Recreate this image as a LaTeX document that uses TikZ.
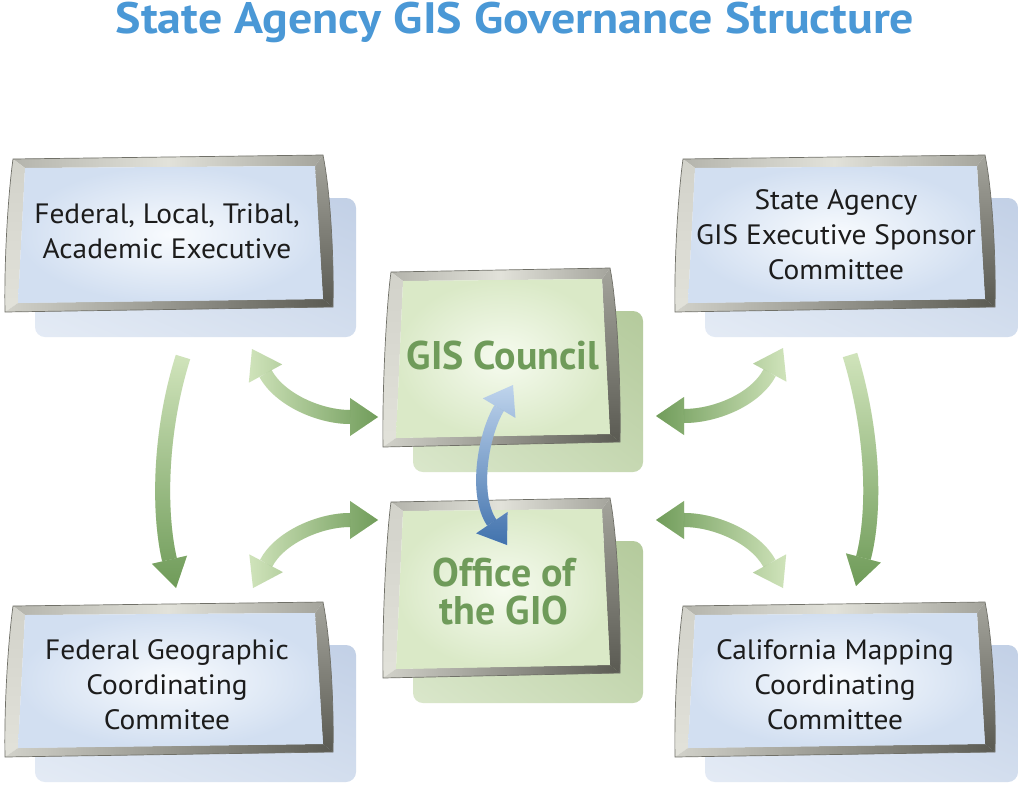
\documentclass[tikz,border=0pt]{standalone}
\usepackage{fontspec}
\setmainfont{PT Sans}
\newfontfamily\boxfont{PT Sans}[FakeStretch=1.05]
\newfontfamily\ttlfont{PT Sans}[FakeStretch=1.09]
\usetikzlibrary{arrows.meta,fadings,shadings,calc}

\definecolor{titleblue}{HTML}{4A98D6}
\definecolor{gtext}{HTML}{6F9B5A}
\definecolor{btext}{HTML}{1C1C1C}
\definecolor{shB1}{HTML}{E4EBF5}
\definecolor{shB2}{HTML}{C2D0E6}
\definecolor{shB3}{HTML}{D3DEEE}
\definecolor{shG1}{HTML}{DAE7CB}
\definecolor{shG2}{HTML}{B4CA9C}
\definecolor{shG3}{HTML}{C6D8B2}
\definecolor{pnB1}{HTML}{F8FBFE}
\definecolor{pnB2}{HTML}{D2DFF1}
\definecolor{pnG1}{HTML}{F6FBEF}
\definecolor{pnG2}{HTML}{DAE9C7}
\definecolor{frA}{HTML}{B4B4AC}
\definecolor{frB}{HTML}{E2E2DA}
\definecolor{frC}{HTML}{A4A49C}
\definecolor{frD}{HTML}{5A5A52}
\definecolor{frE}{HTML}{D2D2CA}
\definecolor{frLine}{HTML}{707068}
\definecolor{gl}{HTML}{D3E6BE}
\definecolor{gd}{HTML}{6C9956}
\definecolor{bl}{HTML}{C4D8EF}
\definecolor{bd}{HTML}{3D6FAB}

\tikzfading[name=toR, left color=transparent!100, right color=transparent!0]
\tikzfading[name=toL, left color=transparent!0, right color=transparent!100]
\tikzfading[name=toB, top color=transparent!100, bottom color=transparent!0]

\tikzset{
  bluesh/.style={lower left=shB1, upper right=shB2, upper left=shB3, lower right=shB3},
  greensh/.style={lower left=shG1, upper right=shG2, upper left=shG3, lower right=shG3},
  bluepn/.style={inner color=pnB1, outer color=pnB2},
  greenpn/.style={inner color=pnG1, outer color=pnG2},
  boxtext/.style={align=center, text=btext, font=\boxfont\fontsize{28}{35}\selectfont, inner sep=0pt},
  gistext/.style={align=center, text=gtext, font=\fontsize{40}{38}\selectfont\bfseries, inner sep=0pt},
  titletext/.style={text=titleblue, font=\ttlfont\fontsize{44}{44}\selectfont\bfseries, inner sep=0pt, anchor=base},
  garr/.style={line width=14, {Triangle[width=38,length=28,line width=0pt]}-{Triangle[width=38,length=28,line width=0pt]}},
  garrone/.style={line width=15, -{Triangle[width=36,length=29,line width=0pt]}},
  barr/.style={line width=11, {Triangle[width=38,length=27,line width=0pt]}-{Triangle[width=38,length=27,line width=0pt]}},
}

% #1 x1, #2 y1, #3 x2, #4 y2, #5 kind (blue / green)
\newcommand\bevbox[5]{%
  \shade[#5sh, rounded corners=10] (#1+30,#2+43) rectangle (#3+23,#4+25);
  % top band
  \shade[left color=frA, right color=frC, middle color=frB]
    (#1+8,#2+4) -- (#3-10,#2) -- (#3-18,#2+11) -- (#1+20,#2+13) -- cycle;
  % left band
  \shade[top color=frE, bottom color=frB]
    (#1+8,#2+4) -- (#1+20,#2+13) -- (#1+13,#4-9) -- (#1,#4)
    .. controls (#1-1,#4-50) and (#1+3,#2+40) .. cycle;
  % right band
  \shade[top color=frC, bottom color=frD]
    (#3-10,#2) .. controls (#3-2,#2+40) and (#3+1,#4-50) .. (#3,#4-5)
    -- (#3-10,#4-13) -- (#3-18,#2+11) -- cycle;
  % bottom band
  \shade[left color=frE, right color=frD]
    (#1,#4) -- (#1+13,#4-9) -- (#3-10,#4-13) -- (#3,#4-5) -- cycle;
  % panel
  \shade[#5pn] (#1+20,#2+13) -- (#3-18,#2+11) -- (#3-10,#4-13) -- (#1+13,#4-9) -- cycle;
  % outline
  \draw[frLine, line width=0.7] (#1+8,#2+4) -- (#3-10,#2)
    .. controls (#3-2,#2+40) and (#3+1,#4-50) .. (#3,#4-5) -- (#1,#4)
    .. controls (#1-1,#4-50) and (#1+3,#2+40) .. cycle;
}

% #1 style, #2 light, #3 dark, #4 fading, #5 path
\newcommand\farrow[5]{%
  \draw[#1,#2] #5;
  \draw[#1,#3,path fading=#4] #5;
}

\begin{document}
\begin{tikzpicture}[x=1pt,y=-1pt]
\useasboundingbox (0,0) rectangle (1024,785);
\fill[white] (0,0) rectangle (1024,785);

\node[titletext] (title) at (515,33) {State Agency GIS Governance Structure};

% boxes
\bevbox{5}{155}{333}{312}{blue}
\node[boxtext] (fed) at (167,231) {Federal, Local, Tribal,\\Academic Executive};

\bevbox{675}{155}{995}{312}{blue}
\node[boxtext] (sa) at (836,235) {State Agency\\GIS Executive Sponsor\\Committee};

\bevbox{5}{602}{333}{757}{blue}
\node[boxtext] (fgdc) at (167,685) {Federal Geographic\\Coordinating\\Commitee};

\bevbox{675}{602}{995}{757}{blue}
\node[boxtext] (cmcc) at (835,685) {California Mapping\\Coordinating\\Committee};

\bevbox{383}{268}{620}{447}{green}
\node[gistext] (gis) at (503,355) {GIS Council};

\bevbox{383}{498}{620}{678}{green}
\node[gistext] (gio) at (504,591) {Office of\\the GIO};

% arrow end coordinates
\coordinate (fedS) at (183,357);
\coordinate (fgdcN) at (176,588);
\coordinate (saS) at (850,355);
\coordinate (cmccN) at (856,586);
\coordinate (fedE) at (252,349);
\coordinate (gisW) at (378,417);
\coordinate (fgdcE) at (253,588);
\coordinate (gioW) at (378,520);
\coordinate (saW) at (783,348);
\coordinate (gisE) at (656,416);
\coordinate (cmccW) at (783,588);
\coordinate (gioE) at (656,520);
\coordinate (gisS) at (513,385);
\coordinate (gioN) at (507,545);

% arrows
\farrow{garrone}{gl}{gd}{toB}{(fedS) .. controls (160,430) and (158,510) .. (fgdcN)}
\farrow{garrone}{gl}{gd}{toB}{(saS) .. controls (873,430) and (876,510) .. (cmccN)}
\farrow{garr}{gl}{gd}{toR}{(fedE) .. controls (280,400) and (320,417) .. (gisW)}
\farrow{garr}{gl}{gd}{toR}{(fgdcE) .. controls (280,537) and (320,520) .. (gioW)}
\farrow{garr}{gl}{gd}{toL}{(saW) .. controls (755,400) and (715,416) .. (gisE)}
\farrow{garr}{gl}{gd}{toL}{(cmccW) .. controls (755,537) and (715,520) .. (gioE)}
\farrow{barr}{bl}{bd}{toB}{(gisS) .. controls (483,435) and (473,495) .. (gioN)}

\end{tikzpicture}
\end{document}
